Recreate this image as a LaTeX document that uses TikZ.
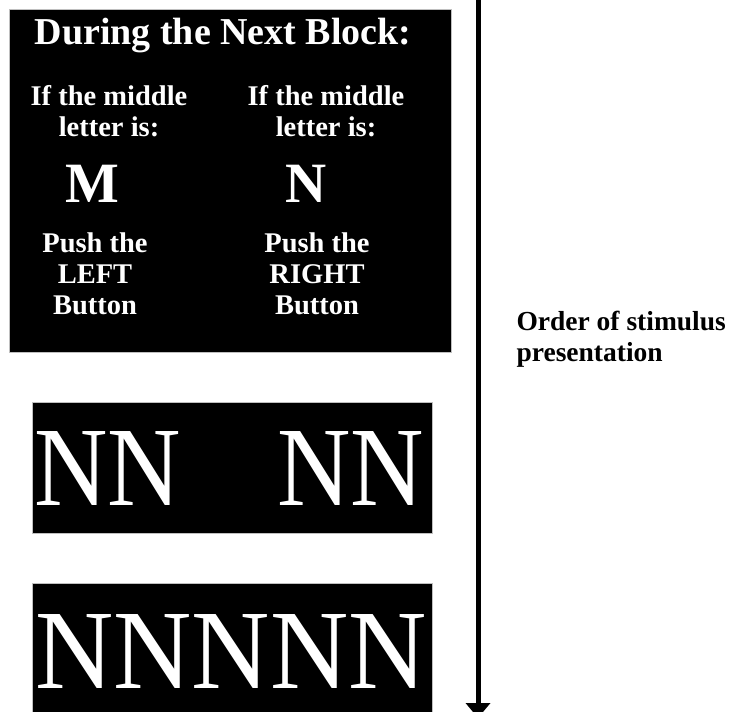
\documentclass[tikz,border=0pt]{standalone}
\usepackage{fontspec}
\setmainfont{Liberation Serif}
\usepackage{graphicx}
\usetikzlibrary{arrows.meta}

\tikzset{
  panel/.style={fill=black, draw=gray!50, line width=0.6pt, inner sep=0pt, anchor=north west},
  rule/.style={white, font=\fontsize{28.5}{31}\selectfont\bfseries, align=center, anchor=base},
  bigletter/.style={white, font=\fontsize{113}{113}\selectfont, anchor=base west, inner sep=0pt},
}

\begin{document}
\begin{tikzpicture}[x=1pt, y=-1pt]
\clip (0,0) rectangle (737,712);
\fill[white] (0,0) rectangle (737,712);
% instruction screen
\node[panel, minimum width=442pt, minimum height=343pt] (info) at (9,9) {};
\node[white, anchor=base, font=\fontsize{38}{38}\selectfont\bfseries] (title) at (223,45) {During the Next Block:};
\node[rule] (ifleft) at (109,136) {If the middle\\letter is:};
\node[rule] (ifright) at (326,136) {If the middle\\letter is:};
\node[white, anchor=base, font=\fontsize{57}{57}\selectfont\bfseries] (letM) at (92,202) {M};
\node[white, anchor=base, font=\fontsize{57}{57}\selectfont\bfseries] (letN) at (306,202) {N};
\node[rule] (pushleft) at (95,314) {Push the\\LEFT\\Button};
\node[rule] (pushright) at (317,314) {Push the\\RIGHT\\Button};
% stimulus screens
\node[panel, minimum width=400pt, minimum height=131pt] (stimA) at (32,402) {};
\node[bigletter] (flankA) at (34,505) {\scalebox{0.9}[1]{NN}};
\node[bigletter] (flankB) at (277,505) {\scalebox{0.9}[1]{NN}};
\node[panel, minimum width=400pt, minimum height=150pt] (stimB) at (32,583) {};
\node[bigletter] (flankC) at (35,688) {\scalebox{0.96}[1]{NNNNN}};
% time axis
\coordinate (start) at (478,-2);
\coordinate (finish) at (478,718);
\draw[line width=5pt, -{Triangle[width=24pt,length=15pt]}] (start) -- (finish);
\node[anchor=base west, align=left, font=\fontsize{27.5}{31}\selectfont\bfseries] (order) at (513,361) {Order of stimulus\\presentation};
\end{tikzpicture}
\end{document}
